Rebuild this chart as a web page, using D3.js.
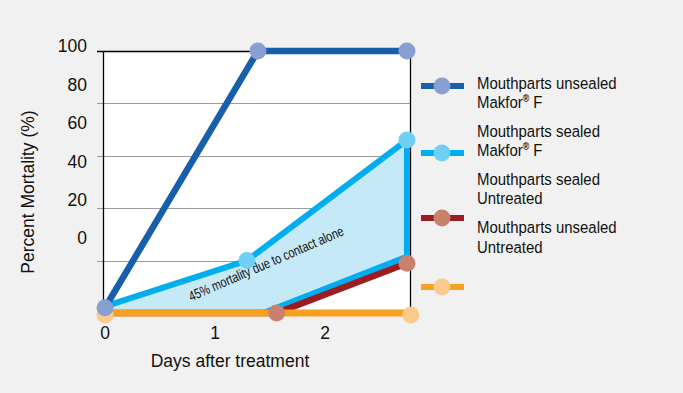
<!DOCTYPE html>
<html>
<head>
<meta charset="utf-8">
<script src="https://cdn.jsdelivr.net/npm/d3@7"></script>
<style>
  body { margin: 0; background: #f0f1f0; }
  svg { display: block; font-family: "Liberation Sans", Arial, sans-serif; }
</style>
</head>
<body>
<script>
// values (days after treatment, percent mortality)
const unsealedMakforDays = [0, 1.39, 2.745];
const unsealedMakforMortality = [2, 100, 100];
const sealedMakforDays = [0, 1.29, 2.745];
const sealedMakforMortality = [2.5, 20, 66];
const sealedUntreatedDays = [0, 1.44, 2.745];
const sealedUntreatedMortality = [0, 0, 21.5];
const unsealedUntreatedDays = [0, 1.56, 2.745];
const unsealedUntreatedMortality = [0, 0, 19];
const controlDays = [0, 2.78];
const controlMortality = [0, 0];

const xTicks = [0, 1, 2];
const yTicks = [0, 20, 40, 60, 80, 100];
const legendLabels = [
    ["Mouthparts unsealed", "Makfor", "®", " F"],
    ["Mouthparts sealed", "Makfor", "®", " F"],
    ["Mouthparts sealed", "Untreated"],
    ["Mouthparts unsealed", "Untreated"]
];
const annotation = "45% mortality due to contact alone";

function pts(xs, ys) {
    return xs.map(function(d, i) { return [d, ys[i]]; });
}

function init() {
    var w = 683, h = 393;

    var svg = d3.select("body").append("svg")
        .attr("width", w)
        .attr("height", h);

    svg.append("rect").attr("width", w).attr("height", h).attr("fill", "#f0f1f0");

    var x = d3.scaleLinear().domain([0, 1]).range([105, 215]);
    var y = d3.scaleLinear().domain([0, 100]).range([313, 51]);
    // the tick labels in the original sit on their own, tighter spacing
    var yLab = d3.scaleLinear().domain([0, 100]).range([238, 46]);

    var left = 103, right = 410;

    // plot area
    svg.append("rect")
        .attr("x", left).attr("y", y(100))
        .attr("width", right - left).attr("height", y(0) - y(100))
        .attr("fill", "#ffffff");

    // grid
    svg.selectAll(".grid")
        .data(yTicks.filter(function(d) { return d > 0 && d < 100; }))
        .enter().append("line")
        .attr("x1", 97).attr("x2", right)
        .attr("y1", function(d) { return Math.round(y(d)) + 0.5; })
        .attr("y2", function(d) { return Math.round(y(d)) + 0.5; })
        .attr("stroke", "#9b9b9b").attr("stroke-width", 1.2);

    svg.append("line")
        .attr("x1", 97).attr("x2", right + 0.5)
        .attr("y1", Math.round(y(100)) + 0.5).attr("y2", Math.round(y(100)) + 0.5)
        .attr("stroke", "#000").attr("stroke-width", 1.3);
    svg.append("line")
        .attr("x1", left + 0.5).attr("x2", left + 0.5)
        .attr("y1", y(100)).attr("y2", y(0) - 3)
        .attr("stroke", "#000").attr("stroke-width", 1.3);
    svg.append("line")
        .attr("x1", right + 0.5).attr("x2", right + 0.5)
        .attr("y1", y(100)).attr("y2", y(0) - 3)
        .attr("stroke", "#000").attr("stroke-width", 1.3);

    // y tick labels
    svg.selectAll(".ylab")
        .data(yTicks)
        .enter().append("text")
        .attr("x", 87)
        .attr("y", function(d) { return yLab(d); })
        .attr("dy", "0.36em")
        .attr("text-anchor", "end")
        .attr("font-size", 17.5)
        .attr("fill", "#111")
        .text(function(d) { return d; });

    // x tick labels
    svg.selectAll(".xlab")
        .data(xTicks)
        .enter().append("text")
        .attr("x", function(d) { return x(d); })
        .attr("y", 339)
        .attr("text-anchor", "middle")
        .attr("font-size", 17.5)
        .attr("fill", "#111")
        .text(function(d) { return d; });

    svg.append("text")
        .attr("x", 230).attr("y", 367)
        .attr("text-anchor", "middle")
        .attr("font-size", 17.5)
        .attr("fill", "#111")
        .text("Days after treatment");

    svg.append("text")
        .attr("transform", "translate(34,192) rotate(-90)")
        .attr("text-anchor", "middle")
        .attr("font-size", 17.5)
        .attr("fill", "#111")
        .text("Percent Mortality (%)");

    var line = d3.line()
        .x(function(d) { return x(d[0]); })
        .y(function(d) { return y(d[1]); });

    var sealedM = pts(sealedMakforDays, sealedMakforMortality);
    var sealedU = pts(sealedUntreatedDays, sealedUntreatedMortality);
    var unsealedM = pts(unsealedMakforDays, unsealedMakforMortality);
    var unsealedU = pts(unsealedUntreatedDays, unsealedUntreatedMortality);
    var control = pts(controlDays, controlMortality);

    var band = sealedM.concat(sealedU.slice().reverse());

    // shaded band between sealed treated and sealed untreated
    svg.append("path")
        .attr("d", line(band) + "Z")
        .attr("fill", "#c6e9f8");

    svg.append("path")
        .attr("d", line(band))
        .attr("fill", "none")
        .attr("stroke", "#00aeef")
        .attr("stroke-width", 6);

    svg.append("path")
        .attr("d", line(unsealedU))
        .attr("fill", "none")
        .attr("stroke", "#9d1b21")
        .attr("stroke-width", 6.5);

    svg.append("path")
        .attr("d", line(control))
        .attr("fill", "none")
        .attr("stroke", "#f7a021")
        .attr("stroke-width", 7);

    svg.append("path")
        .attr("d", line(unsealedM))
        .attr("fill", "none")
        .attr("stroke", "#175fab")
        .attr("stroke-width", 6.5);

    function markers(data, color, dy) {
        svg.append("g").selectAll("circle")
            .data(data)
            .enter().append("circle")
            .attr("cx", function(d) { return x(d[0]); })
            .attr("cy", function(d) { return y(d[1]) + (dy || 0); })
            .attr("r", 8.5)
            .attr("fill", color);
    }

    // control markers sit a little below their line in the original
    markers(control, "#fdca8d", 2);
    markers(sealedM.slice(1), "#6fd0f6");
    markers(unsealedU.slice(1), "#c9806c");
    markers(unsealedM, "#8a9fd1");

    // annotation along the band (condensed face in the original)
    svg.append("text")
        .attr("transform", "translate(268,268) rotate(-23.5) scale(0.78,1)")
        .attr("text-anchor", "middle")
        .attr("font-size", 14)
        .attr("fill", "#111")
        .text(annotation);

    // legend: markers and labels are offset from each other as in the original
    var legendSwatches = [
        {line: "#175fab", dot: "#8a9fd1"},
        {line: "#00aeef", dot: "#6fd0f6"},
        {line: "#9d1b21", dot: "#c9806c"},
        {line: "#f7a021", dot: "#fdca8d"}
    ];
    var swatchY = [86, 153, 218, 287];

    var sw = svg.append("g").selectAll("g")
        .data(legendSwatches)
        .enter().append("g")
        .attr("transform", function(d, i) { return "translate(0," + swatchY[i] + ")"; });
    sw.append("line")
        .attr("x1", 421).attr("x2", 464)
        .attr("stroke", function(d) { return d.line; })
        .attr("stroke-width", 6);
    sw.append("circle")
        .attr("cx", 442).attr("r", 8.5)
        .attr("fill", function(d) { return d.dot; });

    var lg = svg.append("g").selectAll("text")
        .data(legendLabels)
        .enter().append("text")
        .attr("transform", function(d, i) {
            return "translate(477," + (88.5 + i * 48.2) + ") scale(0.88,1)";
        })
        .attr("font-size", 17)
        .attr("fill", "#111");

    lg.append("tspan").text(function(d) { return d[0]; });
    lg.append("tspan")
        .attr("x", 0).attr("dy", 19.5)
        .text(function(d) { return d[1]; });
    lg.filter(function(d) { return d.length > 2; })
        .append("tspan")
        .attr("dy", -6).attr("font-size", 10).attr("font-weight", "bold")
        .text(function(d) { return d[2]; });
    lg.filter(function(d) { return d.length > 2; })
        .append("tspan")
        .attr("dy", 6)
        .text(function(d) { return d[3]; });
}
window.onload = init;
</script>
</body>
</html>
